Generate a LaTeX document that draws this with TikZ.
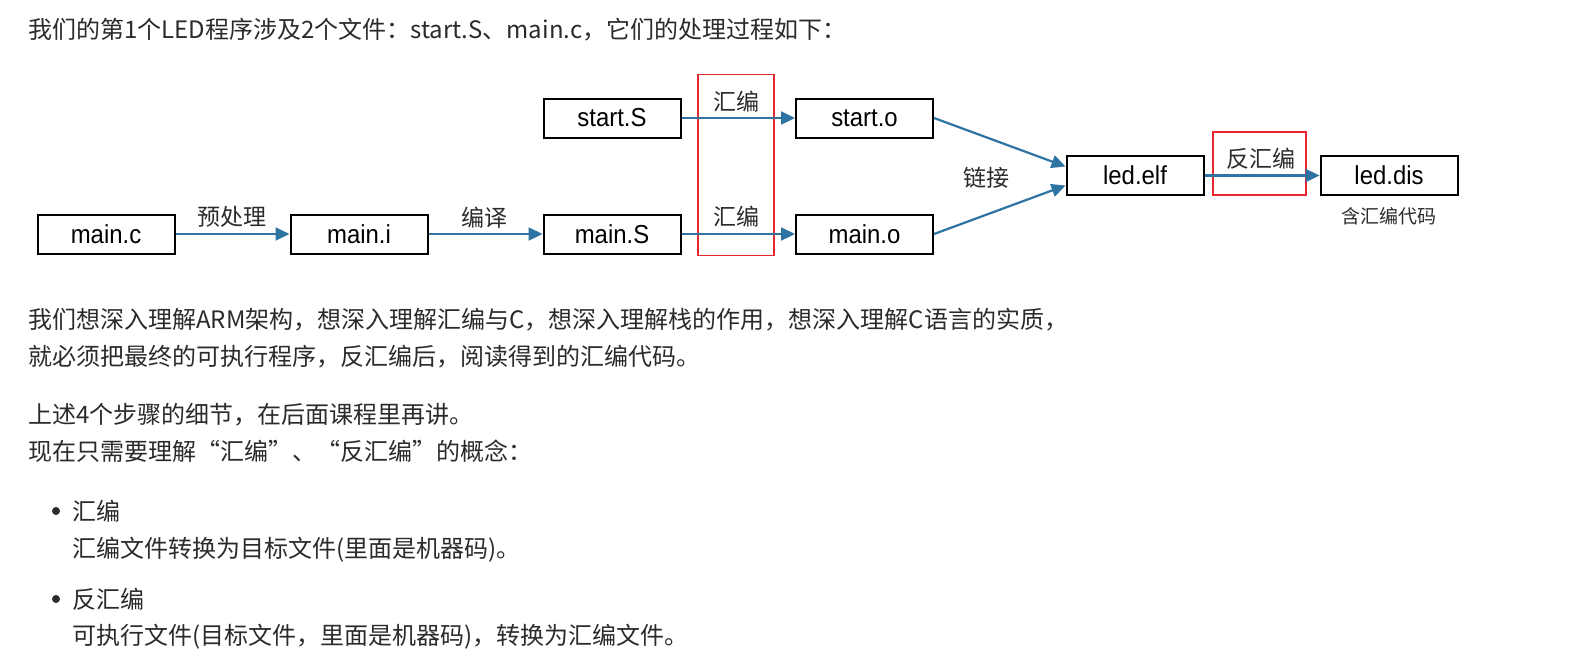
\documentclass[tikz,border=0pt]{standalone}
\usepackage{fontspec}
\usepackage{graphicx}
\setmainfont{Liberation Sans}
\newfontfamily\cjk{Noto Sans CJK SC}
\usetikzlibrary{arrows.meta}
\definecolor{arrowblue}{HTML}{2F73A3}
\definecolor{redbox}{HTML}{E8262D}
\definecolor{txt}{HTML}{2B2B2B}
\newcommand{\narrowtext}[1]{\scalebox{0.92}[1]{#1}}
\tikzset{
  file/.style={draw=black, line width=2pt, minimum width=137pt, minimum height=39pt, inner sep=0pt, font=\fontsize{26}{26}\selectfont, fill=white},
  flow/.style={draw=arrowblue, line width=2.2pt, -{Triangle[length=14pt,width=13pt]}},
  lbl/.style={font=\cjk\fontsize{23}{23}\selectfont, text=txt, inner sep=0pt},
  small/.style={font=\cjk\fontsize{19}{19}\selectfont, text=txt, inner sep=0pt},
  para/.style={font=\cjk\fontsize{24}{24}\selectfont, text=txt, anchor=west, inner sep=0pt},
  hl/.style={draw=redbox, line width=1.5pt, inner sep=0pt},
  bullet/.style={circle, fill=txt, inner sep=0pt, minimum size=8pt},
}
\begin{document}
\begin{tikzpicture}[x=1pt,y=-1pt]
\useasboundingbox[fill=white] (0,0) rectangle (1578,657);

% text paragraphs
\node[para] (p1) at (28,30) {我们的第1个LED程序涉及2个文件：start.S、main.c，它们的处理过程如下：};
\node[para] (p2) at (28,320) {我们想深入理解ARM架构，想深入理解汇编与C，想深入理解栈的作用，想深入理解C语言的实质，};
\node[para] (p3) at (28,357) {就必须把最终的可执行程序，反汇编后，阅读得到的汇编代码。};
\node[para] (p4) at (28,415) {上述4个步骤的细节，在后面课程里再讲。};
\node[para] (p5) at (28,451) {现在只需要理解“汇编”、“反汇编”的概念：};
\node[bullet] (b1) at (56,511) {};
\node[para] (p6) at (72,511) {汇编};
\node[para] (p7) at (72,550) {汇编文件转换为目标文件(里面是机器码)。};
\node[bullet] (b2) at (56,599) {};
\node[para] (p8) at (72,599) {反汇编};
\node[para] (p9) at (72,637) {可执行文件(目标文件，里面是机器码)，转换为汇编文件。};

% highlight boxes
\node[hl, minimum width=76pt, minimum height=181pt] (asmbox) at (736,165) {};
\node[hl, minimum width=93pt, minimum height=63pt] (disbox) at (1259.5,163.5) {};

% files
\node[file] (mainc) at (106,234) {\narrowtext{main.c}};
\node[file] (maini) at (359,234) {\narrowtext{main.i}};
\node[file] (mainS) at (612,234) {\narrowtext{main.S}};
\node[file] (startS) at (612,118) {\narrowtext{start.S}};
\node[file] (starto) at (864.5,118) {\narrowtext{start.o}};
\node[file] (maino) at (864.5,234) {\narrowtext{main.o}};
\node[file] (ledelf) at (1135,175.5) {\narrowtext{led.elf}};
\node[file] (leddis) at (1389,175.5) {\narrowtext{led.dis}};

% connectors
\draw[flow] (mainc) -- (maini);
\draw[flow] (maini) -- (mainS);
\draw[flow] (mainS) -- (maino);
\draw[flow] (startS) -- (starto);
\draw[flow] (starto.east) -- ([yshift=9pt]ledelf.west);
\draw[flow] (maino.east) -- ([yshift=-10pt]ledelf.west);
\draw[flow] (ledelf) -- (leddis);

% labels
\node[lbl] (l1) at (232,217) {预处理};
\node[lbl] (l2) at (484,218) {编译};
\node[lbl] (l3) at (736,102) {汇编};
\node[lbl] (l4) at (736,217) {汇编};
\node[lbl] (l5) at (986,178) {链接};
\node[lbl] (l6) at (1261,159) {反汇编};
\node[small] (l7) at (1389,216) {含汇编代码};
\end{tikzpicture}
\end{document}
